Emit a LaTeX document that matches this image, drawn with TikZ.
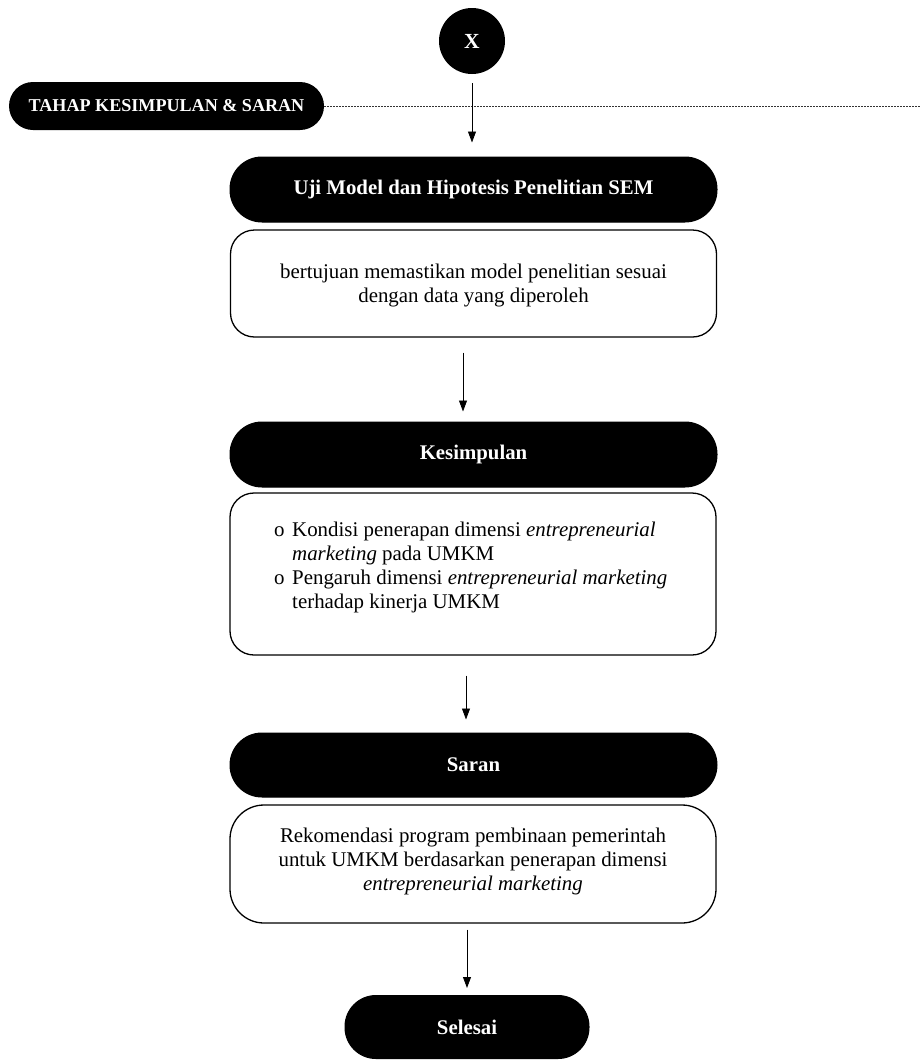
\documentclass[tikz,border=0pt]{standalone}
\usepackage{fontspec}
\setmainfont{Liberation Serif}
\usetikzlibrary{arrows.meta}
\begin{document}
\begin{tikzpicture}[x=1pt,y=-1pt,
  pill/.style={fill=black,draw=black,line width=1pt,text=white,font=\fontsize{20.8}{24}\selectfont\bfseries,
    minimum width=487pt,minimum height=65pt,rounded corners=32pt,inner sep=0pt},
  txtbox/.style={draw=black,line width=1.3pt,fill=white,minimum width=486pt,rounded corners=24pt,inner sep=0pt},
  body/.style={font=\fontsize{20.9}{24}\selectfont,align=center,inner sep=0pt},
  arr/.style={line width=0.8pt,-{Triangle[length=11pt,width=8pt]}}]
\useasboundingbox (0,0) rectangle (920,1061);
% start circle and stage label
\node[circle,fill=black,minimum size=66pt,inner sep=0pt,text=white,font=\fontsize{21.5}{24}\selectfont\bfseries] (x) at (472,41) {X};
\node[fill=black,text=white,rounded corners=24pt,minimum width=315pt,minimum height=48pt,inner sep=0pt,
  font=\fontsize{18.1}{20}\selectfont\bfseries] (tahap) at (166.5,106) {TAHAP KESIMPULAN \& SARAN};
\coordinate (dashend) at (920,106);
\draw[line width=0.6pt,dash pattern=on 1.8pt off 1.2pt,black!80] (tahap.east) -- (dashend);
% Uji
\node[pill] (uji) at (473.5,189.5) {Uji Model dan Hipotesis Penelitian SEM};
\node[txtbox,minimum height=107pt] (ujibox) at (473.5,283.5) {};
\node[body] (ujitext) at (473.5,285) {bertujuan memastikan model penelitian sesuai\\dengan data yang diperoleh};
% Kesimpulan
\node[pill] (kes) at (473.5,454.5) {Kesimpulan};
\node[txtbox,minimum height=162pt] (kesbox) at (473,574) {};
\node[body,align=left,anchor=west] (kestext) at (274,567.5) {%
  \makebox[18pt][l]{o}Kondisi penerapan dimensi \textit{entrepreneurial}\\
  \hspace*{18pt}\textit{marketing} pada UMKM\\
  \makebox[18pt][l]{o}Pengaruh dimensi \textit{entrepreneurial marketing}\\
  \hspace*{18pt}terhadap kinerja UMKM};
% Saran
\node[pill,minimum height=64pt] (saran) at (473.5,765) {Saran};
\node[txtbox,minimum height=118pt,rounded corners=34pt] (saranbox) at (473,864) {};
\node[body] (sarantext) at (473,861) {Rekomendasi program pembinaan pemerintah\\untuk UMKM berdasarkan penerapan dimensi\\\textit{entrepreneurial marketing}};
% Selesai
\node[pill,minimum width=244pt,minimum height=63pt,rounded corners=31pt] (selesai) at (467,1027) {Selesai};
% arrows
\draw[arr] ([yshift=-9pt]x.south) -- ([xshift=-1.5pt,yshift=14pt]uji.north);
\draw[arr] ([xshift=-10.5pt,yshift=-15pt]ujibox.south) -- ([xshift=-10.5pt,yshift=10pt]kes.north);
\draw[arr] ([xshift=-7pt,yshift=-20pt]kesbox.south) -- ([xshift=-7.5pt,yshift=13pt]saran.north);
\draw[arr] ([xshift=-6pt,yshift=-6pt]saranbox.south) -- ([yshift=7pt]selesai.north);
\end{tikzpicture}
\end{document}
